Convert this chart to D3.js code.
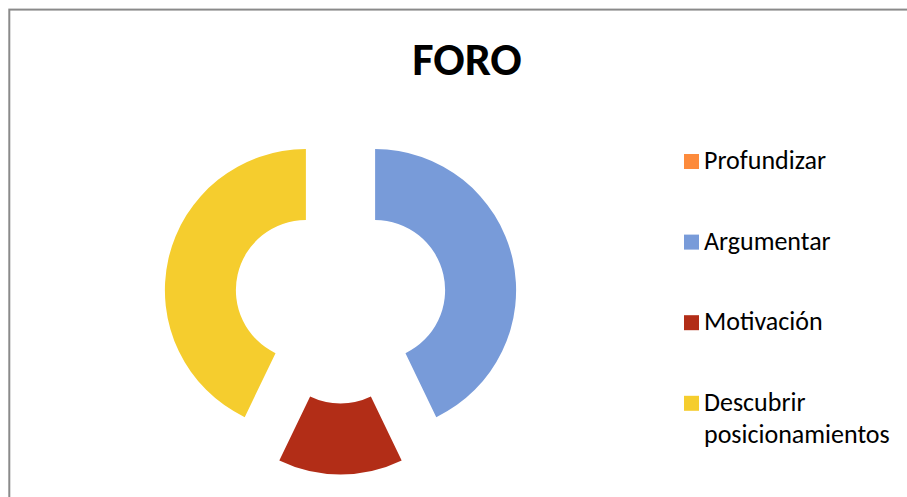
<!DOCTYPE html>
<html>
<head>
<meta charset="utf-8">
<script src="https://cdn.jsdelivr.net/npm/d3@7"></script>
<style>
  html, body { margin: 0; padding: 0; background: #fff; }
  svg { display: block; }
  text { font-family: Carlito, Calibri, Lato, "Open Sans", sans-serif; }
</style>
</head>
<body>
<svg id="chart" width="907" height="497"></svg>
<script>
// ---- data ----
const title = "FORO";
const categories = ["Profundizar", "Argumentar", "Motivación", "Descubrir posicionamientos"];
const values = [0, 3, 1, 3];
const colors = ["#FD8B3C", "#789BD9", "#B22D17", "#F5CD2E"];
const legendLines = [["Profundizar"], ["Argumentar"], ["Motivación"], ["Descubrir", "posicionamientos"]];

// ---- layout ----
const W = 907, H = 497;
const svg = d3.select("#chart");

svg.append("rect")
  .attr("x", 9.3).attr("y", 9.6)
  .attr("width", W + 20).attr("height", H + 20)
  .attr("fill", "#fff")
  .attr("stroke", "#8a8a8a")
  .attr("stroke-width", 2);

svg.append("text")
  .attr("x", 467).attr("y", 75)
  .attr("text-anchor", "middle")
  .attr("font-size", 46.5)
  .attr("font-weight", "bold")
  .attr("fill", "#000")
  .text(title);

const cx = 340.5, cy = 298;
const outerR = 141, innerR = 70, explode = 35.5;

const pie = d3.pie().sort(null).value(d => d.v).startAngle(0).endAngle(2 * Math.PI);
const data = categories.map((c, i) => ({ c, v: values[i], color: colors[i] }));
const arcs = pie(data);
const arc = d3.arc().innerRadius(innerR).outerRadius(outerR);

const g = svg.append("g").attr("transform", `translate(${cx},${cy})`);
g.selectAll("path")
  .data(arcs.filter(a => a.value > 0))
  .join("path")
  .attr("d", arc)
  .attr("fill", a => a.data.color)
  .attr("transform", a => {
    const mid = (a.startAngle + a.endAngle) / 2;
    return `translate(${explode * Math.sin(mid)},${-explode * Math.cos(mid)})`;
  });

// ---- legend ----
const legX = 684, legY0 = 169, legStep = 80.6;
const lg = svg.append("g");
legendLines.forEach((lines, i) => {
  const y = legY0 + i * legStep;
  lg.append("rect")
    .attr("x", legX).attr("y", y - 15)
    .attr("width", 15).attr("height", 15)
    .attr("fill", colors[i]);
  const t = lg.append("text")
    .attr("x", legX + 20).attr("y", y)
    .attr("font-size", 26)
    .attr("fill", "#000");
  lines.forEach((ln, j) => {
    t.append("tspan").attr("x", legX + 20).attr("y", y + j * 32).text(ln);
  });
});
</script>
</body>
</html>
